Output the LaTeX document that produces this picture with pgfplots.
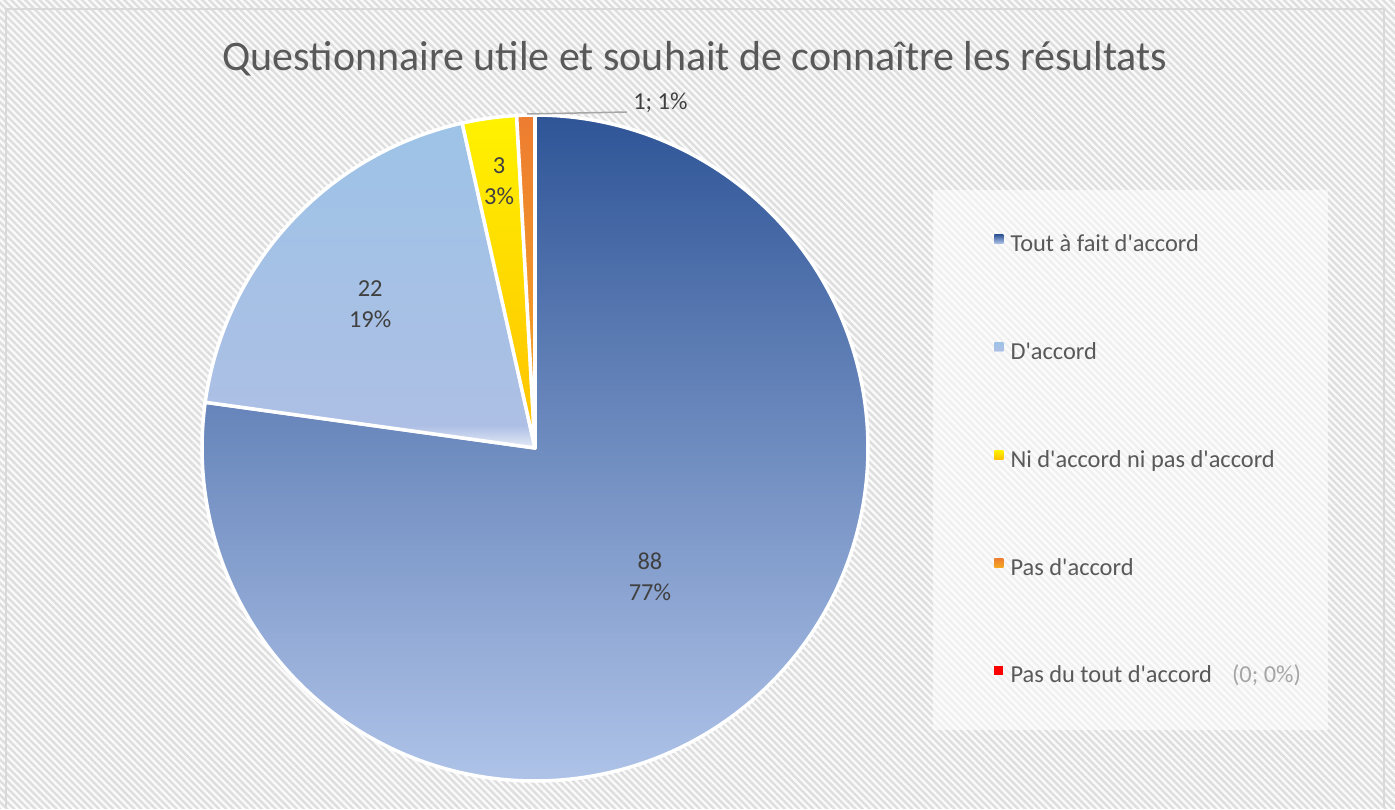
\documentclass[border=0pt]{standalone}
\usepackage{pgfplots}
\pgfplotsset{compat=1.18}
\usepackage{pgfplotstable}
\usepackage{fontspec}
\setmainfont{Carlito}
\usetikzlibrary{patterns.meta}
\newcommand\ap{\textquotesingle}

\definecolor{cTitle}{HTML}{595959}
\definecolor{cLab}{HTML}{404040}
\definecolor{cAtop}{HTML}{2F5597}
\definecolor{cAbot}{HTML}{AFC3E8}
\definecolor{cBtop}{HTML}{9DC3E6}
\definecolor{cBmid}{HTML}{ADBFE5}
\definecolor{cBlow}{HTML}{E6ECF6}
\definecolor{cCtop}{HTML}{FFF200}
\definecolor{cCbot}{HTML}{FFC000}
\definecolor{cDtop}{HTML}{ED7D31}
\definecolor{cDbot}{HTML}{F5A623}
\definecolor{cE}{HTML}{FF0000}
\definecolor{cLead}{HTML}{A6A6A6}
\definecolor{cBorder}{HTML}{D9D9D9}

\pgfdeclareverticalshading{dshade}{100bp}{color(0bp)=(cBlow); color(25bp)=(cBlow); color(28.5bp)=(cBmid); color(75bp)=(cBtop); color(100bp)=(cBtop)}

\pgfplotstableread{
idx value
0 88
1 22
2 3
3 1
4 0
}\piedata

\pgfplotstablegetelem{0}{value}\of\piedata \let\vA\pgfplotsretval
\pgfplotstablegetelem{1}{value}\of\piedata \let\vB\pgfplotsretval
\pgfplotstablegetelem{2}{value}\of\piedata \let\vC\pgfplotsretval
\pgfplotstablegetelem{3}{value}\of\piedata \let\vD\pgfplotsretval
\pgfplotstablegetelem{4}{value}\of\piedata \let\vE\pgfplotsretval
\pgfmathsetmacro\tot{\vA+\vB+\vC+\vD+\vE}
\pgfmathsetmacro\aA{90}
\pgfmathsetmacro\aB{\aA-360*(\vA/\tot)}
\pgfmathsetmacro\aC{\aB-360*(\vB/\tot)}
\pgfmathsetmacro\aD{\aC-360*(\vC/\tot)}
\pgfmathsetmacro\aE{\aD-360*(\vD/\tot)}

\begin{document}
\begin{tikzpicture}
% background
\fill[white!98!black] (0pt,0pt) rectangle (697.5pt,404pt);
\fill[pattern={Lines[angle=-45,distance=2.5pt,line width=1.2pt]}, pattern color=black!13] (0pt,0pt) rectangle (697.5pt,404pt);
\draw[cBorder, line width=1pt] (3pt,0pt) -- (3pt,399.5pt) -- (692pt,399.5pt) -- (692pt,0pt);
% legend panel
\fill[white, opacity=0.55] (466.5pt,39pt) rectangle (664pt,309pt);

\begin{axis}[
  at={(267.5pt,180pt)}, anchor=center,
  width=333pt, height=333pt, scale only axis,
  xmin=-1, xmax=1, ymin=-1, ymax=1,
  hide axis, clip=false,
  legend image code/.code={\path[#1,draw=none] (0pt,1pt) rectangle (4.5pt,5.5pt); \path (7.25pt,0pt);},
  legend cell align=left,
  legend style={at={(1.180,0.8285)}, anchor=north west, draw=none, fill=none,
    font=\fontsize{12.2}{14}\selectfont, text=cTitle, row sep=41.9pt,
    nodes={inner sep=0pt, text height=9pt, text depth=3pt}},
  every axis plot/.append style={draw=white, line width=1.75pt, line join=round},
]
\addplot[top color=cAtop, bottom color=cAbot, domain=\aB:\aA, samples=240, variable=\t]
  ({cos(\t)},{sin(\t)}) -- (axis cs:0,0) -- cycle;
\addlegendentry{Tout à fait d\ap accord}
\addplot[shade, shading=dshade, domain=\aC:\aB, samples=80, variable=\t]
  ({cos(\t)},{sin(\t)}) -- (axis cs:0,0) -- cycle;
\addlegendentry{D\ap accord}
\addplot[top color=cCtop, bottom color=cCbot, domain=\aD:\aC, samples=20, variable=\t]
  ({cos(\t)},{sin(\t)}) -- (axis cs:0,0) -- cycle;
\addlegendentry{Ni d\ap accord ni pas d\ap accord}
\addplot[top color=cDtop, bottom color=cDbot, domain=\aE:\aD, samples=10, variable=\t]
  ({cos(\t)},{sin(\t)}) -- (axis cs:0,0) -- cycle;
\addlegendentry{Pas d\ap accord}
\addlegendimage{fill=cE}
\addlegendentry{Pas du tout d\ap accord\hspace{10pt}\textcolor{cLead}{(0; 0\%)}}

% data labels
\begin{scope}[every node/.style={font=\fontsize{12.2}{15.5}\selectfont, text=cLab, align=center}]
\node at (axis cs:0.345,-0.387) {88\\77\%};
\node at (axis cs:-0.495,0.432) {22\\19\%};
\node at (axis cs:-0.108,0.800) {3\\3\%};
\node[anchor=west, inner sep=0pt] at (axis cs:0.294,1.036) {1; 1\%};
\end{scope}
\draw[cLead, line width=0.75pt] (axis cs:-0.024,1.003) -- (axis cs:0.276,1.009);
\end{axis}

\node[anchor=base, font=\fontsize{21}{25}\selectfont, text=cTitle] at (347.5pt,368.5pt)
  {Questionnaire utile et souhait de connaître les résultats};
\end{tikzpicture}
\end{document}
